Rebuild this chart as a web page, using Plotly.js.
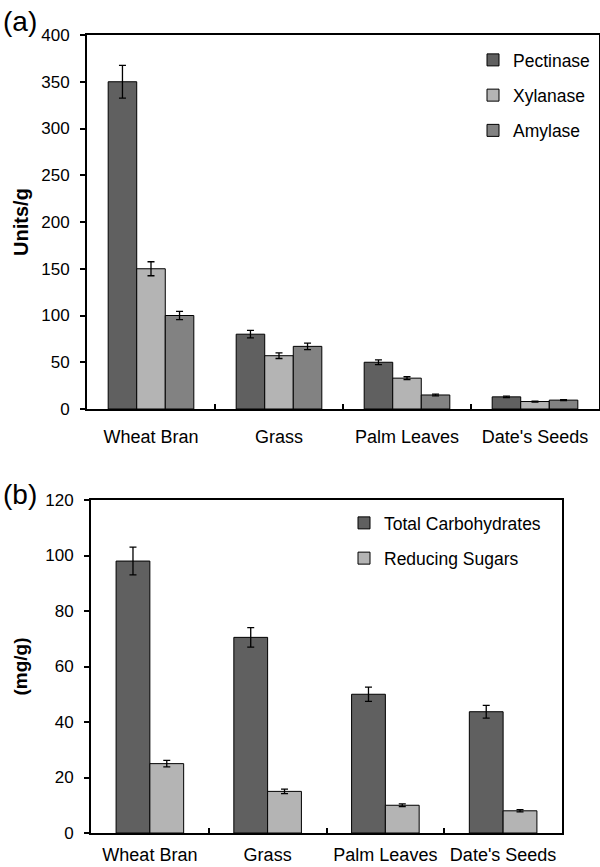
<!DOCTYPE html>
<html>
<head>
<meta charset="utf-8">
<script src="https://cdn.plot.ly/plotly-3.0.1.min.js"></script>
<style>html,body{margin:0;padding:0;background:#fff;}#chart{width:600px;height:867px;}</style>
</head>
<body>
<div id="chart"></div>
<script>
// ---- Data ----
const categories = ["Wheat Bran", "Grass", "Palm Leaves", "Date's Seeds"];

// Panel (a): enzyme activities (Units/g)
const pectinase = [350, 80, 50, 13];
const pectinaseErr = [17.5, 4, 2.5, 0.8];
const xylanase = [150, 57, 33, 8];
const xylanaseErr = [7.5, 3, 1.5, 0.5];
const amylase = [100, 67, 15, 9.5];
const amylaseErr = [4.5, 3.5, 1, 0.5];

// Panel (b): carbohydrates (mg/g)
const totalCarbs = [98, 70.5, 50, 43.7];
const totalCarbsErr = [5, 3.5, 2.6, 2.3];
const reducingSugars = [25, 15, 10, 8];
const reducingSugarsErr = [1.2, 0.8, 0.5, 0.4];

const yTicksA = [0, 50, 100, 150, 200, 250, 300, 350, 400];
const yTicksB = [0, 20, 40, 60, 80, 100, 120];

// ---- Styles ----
const FONT = "Liberation Sans, Arial, Helvetica, sans-serif";
const DARK = "#606060", LIGHT = "#b4b4b4", MID = "#828282";

function barTrace(name, y, err, color, xa, ya, width, offset, legend) {
  return {
    type: "bar", name: name, x: categories, y: y,
    xaxis: xa, yaxis: ya, width: width, offset: offset,
    legend: legend, legendgroup: name,
    marker: {color: color, line: {color: "#000", width: 1}},
    error_y: {type: "data", array: err, visible: true, color: "#000", thickness: 1.3, width: 3.5},
    hoverinfo: "skip"
  };
}

const wA = 0.223, wB = 0.287;
const data = [
  barTrace("Pectinase", pectinase, pectinaseErr, DARK, "x", "y", wA, -1.5 * wA, "legend"),
  barTrace("Xylanase", xylanase, xylanaseErr, LIGHT, "x", "y", wA, -0.5 * wA, "legend"),
  barTrace("Amylase", amylase, amylaseErr, MID, "x", "y", wA, 0.5 * wA, "legend"),
  barTrace("Total Carbohydrates", totalCarbs, totalCarbsErr, DARK, "x2", "y2", wB, -wB, "legend2"),
  barTrace("Reducing Sugars", reducingSugars, reducingSugarsErr, LIGHT, "x2", "y2", wB, 0, "legend2")
];

const xCommon = {
  type: "category", tickson: "boundaries", ticks: "inside", ticklen: 5, tickwidth: 2,
  tickcolor: "#000", showline: true, linewidth: 2, linecolor: "#000", mirror: true,
  showgrid: false, zeroline: false, tickfont: {family: FONT, size: 18, color: "#000"},
  fixedrange: true
};
const yCommon = {
  ticks: "outside", ticklen: 5, tickwidth: 2, tickcolor: "#000",
  showline: true, linewidth: 2, linecolor: "#000", mirror: true,
  showgrid: false, zeroline: false, tickfont: {family: FONT, size: 17, color: "#000"},
  ticklabelstandoff: 7, tickmode: "array", fixedrange: true
};

const legendCommon = {
  font: {family: FONT, size: 17.5, color: "#000"},
  bgcolor: "rgba(0,0,0,0)", borderwidth: 0,
  xanchor: "left", yanchor: "top", traceorder: "grouped", tracegroupgap: 9.5
};

const layout = {
  width: 600, height: 867,
  margin: {l: 0, r: 0, t: 0, b: 0},
  paper_bgcolor: "#fff", plot_bgcolor: "#fff",
  font: {family: FONT, color: "#000"},
  barmode: "group",
  showlegend: true,
  xaxis: Object.assign({}, xCommon, {domain: [87/600, 599/600], anchor: "y", ticklabelstandoff: 10}),
  yaxis: Object.assign({}, yCommon, {
    domain: [1 - 409/867, 1 - 35/867], anchor: "x", range: [0, 400],
    tickvals: yTicksA, ticktext: yTicksA.map(String),
    title: {text: "<b>Units/g</b>", font: {family: FONT, size: 20, color: "#000"}, standoff: 7}
  }),
  xaxis2: Object.assign({}, xCommon, {domain: [91/600, 562/600], anchor: "y2", ticklabelstandoff: 4}),
  yaxis2: Object.assign({}, yCommon, {
    domain: [1 - 833/867, 1 - 500/867], anchor: "x2", range: [0, 120],
    tickvals: yTicksB, ticktext: yTicksB.map(String),
    title: {text: "<b>(mg/g)</b>", font: {family: FONT, size: 19, color: "#000"}, standoff: 13}
  }),
  legend: Object.assign({}, legendCommon, {x: 473/600, y: 1 - 42/867}),
  legend2: Object.assign({}, legendCommon, {x: 344/600, y: 1 - 505/867}),
  annotations: [
    {text: "(a)", x: 1/600, y: 1 - 21/867, xref: "paper", yref: "paper", xanchor: "left", yanchor: "middle",
     showarrow: false, font: {family: FONT, size: 28, color: "#000"}},
    {text: "(b)", x: 1/600, y: 1 - 494/867, xref: "paper", yref: "paper", xanchor: "left", yanchor: "middle",
     showarrow: false, font: {family: FONT, size: 28, color: "#000"}}
  ]
};

Plotly.newPlot("chart", data, layout, {staticPlot: true, displayModeBar: false});
</script>
</body>
</html>
